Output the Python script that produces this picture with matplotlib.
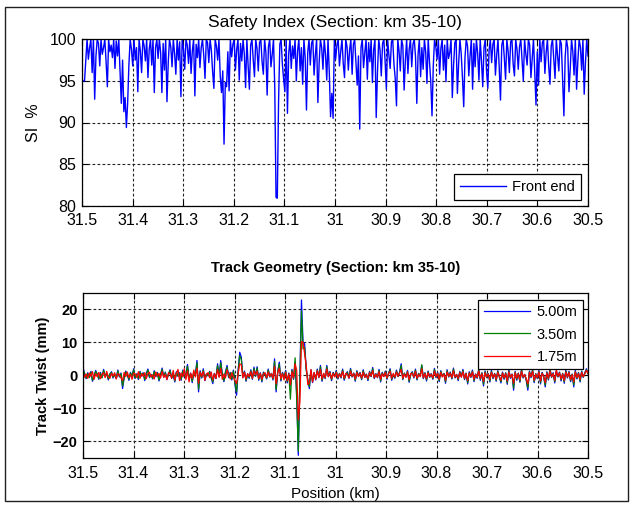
import numpy as np
import matplotlib
matplotlib.use("Agg")
import matplotlib.pyplot as plt
from matplotlib import font_manager

avail = {f.name for f in font_manager.fontManager.ttflist}
fam = [f for f in ["Liberation Sans Narrow", "Liberation Sans", "DejaVu Sans"] if f in avail]
plt.rcParams['font.family'] = fam

# ---------------- data ----------------
pos_start, pos_end = 31.5, 30.5
x_ticks = [31.5, 31.4, 31.3, 31.2, 31.1, 31.0, 30.9, 30.8, 30.7, 30.6, 30.5]
x_tick_labels = ["31.5", "31.4", "31.3", "31.2", "31.1", "31", "30.9", "30.8", "30.7", "30.6", "30.5"]
si_ticks = [80, 85, 90, 95, 100]
twist_ticks = [-20, -10, 0, 10, 20]

si_front_end = [
    95, 95, 95, 97.5, 100, 97.6, 99, 100, 96, 100, 92.8, 98, 100, 99.5, 96.8, 100, 98.2, 99, 100, 97.3,
    94.3, 100, 98.5, 99.3, 97.8, 100, 96.5, 99.8, 98, 100, 96, 92.3, 97.5, 91.3, 93, 89.4, 92.4, 97, 100, 98.8,
    96.8, 100, 97.5, 99, 93.7, 100, 98.6, 96, 100, 99.2, 97.4, 100, 95.4, 98.8, 100, 96.9, 100, 93.6, 99, 100,
    97.7, 100, 98.4, 93.6, 99.5, 96.3, 100, 92.5, 97.2, 100, 99.1, 96.7, 100, 98.3, 95.8, 100, 97.5, 99.7, 93.1, 100,
    98.9, 96.4, 100, 99.3, 97.1, 100, 95.9, 98.6, 100, 93.2, 99.4, 97.8, 100, 96.6, 99, 100, 98.1, 95.3, 100, 99.6,
    97.2, 100, 98.7, 96.1, 94.1, 100, 99.2, 97.5, 100, 95.6, 93.6, 96.2, 87.4, 94.8, 94.3, 98.5, 93.8, 100, 97.9, 99.4,
    100, 96.3, 98.8, 100, 95.1, 99.5, 97.4, 100, 98.2, 94.2, 100, 96.8, 94.0, 99.3, 100, 97.6, 95.5, 100, 98.9, 96.2,
    99.6, 100, 97.3, 95.8, 100, 98.4, 93.3, 99.1, 100, 96.7, 98.2, 100, 94.2, 81.0, 80.9, 92.5, 99.4, 100, 97.0, 95.2,
    93.7, 100, 91.1, 98.3, 100, 96.5, 99.2, 97.7, 100, 95.0, 98.6, 100, 96.2, 99.0, 94.6, 100, 97.8, 91.5, 98.4, 100,
    96.9, 99.5, 100, 95.7, 98.1, 100, 92.4, 97.2, 100, 99.0, 96.4, 100, 98.2, 95.1, 100, 96.0, 90.7, 93.5, 90.5, 100,
    97.6, 99.3, 100, 96.8, 98.5, 100, 97.1, 95.4, 100, 99.1, 96.3, 98.7, 100, 95.8, 99.4, 100, 97.2, 94.5, 98.0, 89.2,
    99.0, 100, 96.6, 98.4, 100, 95.2, 99.6, 97.3, 100, 94.8, 98.8, 100, 90.6, 96.1, 100, 98.7, 95.6, 99.5, 100, 97.4,
    94.0, 100, 98.1, 96.5, 99.7, 100, 97.0, 95.3, 92.0, 100, 98.6, 96.2, 100, 99.2, 93.9, 97.5, 100, 95.9, 98.8, 100,
    96.7, 99.4, 100, 97.9, 92.3, 98.2, 100, 95.5, 99.0, 96.4, 100, 98.5, 94.7, 100, 97.3, 95.0, 90.8, 96.8, 100, 99.1,
    97.6, 100, 95.8, 98.9, 100, 96.3, 99.3, 94.9, 100, 97.7, 98.4, 100, 93.0, 96.9, 99.6, 100, 93.5, 97.1, 100, 98.3,
    95.4, 91.9, 97.8, 100, 99.2, 95.6, 98.0, 100, 94.0, 99.5, 96.7, 100, 98.3, 95.1, 100, 97.4, 94.3, 99.0, 100, 96.2,
    94.1, 98.7, 100, 97.2, 99.4, 100, 95.7, 98.1, 100, 96.6, 92.7, 99.3, 100, 97.8, 95.2, 100, 98.6, 96.0, 99.7, 100,
    97.0, 95.6, 100, 98.8, 96.4, 99.1, 100, 97.5, 95.0, 100, 98.2, 96.9, 100, 99.3, 95.4, 97.7, 100, 96.1, 92.1, 98.5,
    94.5, 100, 97.3, 99.6, 100, 95.9, 98.4, 100, 96.8, 94.6, 99.2, 100, 97.6, 95.3, 100, 98.0, 96.2, 100, 99.4, 95.0,
    90.8, 97.9, 100, 99.0, 93.7, 96.5, 100, 98.6, 95.7, 100, 94.0, 97.4, 100, 99.1, 96.3, 100, 93.4, 97.2, 100, 98.0,
]

twist_500 = [
    2.5, 0.5, -1.0, 0.8, -0.5, 1.2, -1.8, -0.3, 1.5, 0.2, -1.2, 0.9, -0.6, 1.8, -0.2, 0.6, -1.4, 0.3, 1.1, -0.8,
    0.4, -1.0, 1.6, -0.5, 0.7, -4.0, -0.8, 1.3, 0.1, -1.5, 0.9, -0.4, 2.0, -0.9, 0.5, -1.3, 1.2, -0.2, 0.8, -1.6,
    0.6, 1.9, -0.7, 0.3, -1.1, 1.4, -0.4, 0.9, -1.7, 0.2, 2.2, -0.6, 1.0, -1.3, 0.4, 1.7, -0.9, 0.1, -2.0, 1.1,
    -0.3, 0.8, -1.5, 1.6, -0.5, 0.4, 3.3, -1.2, 0.7, -2.2, 1.0, 0.2, 4.5, -5.0, 1.4, -0.8, 2.0, -1.6, 0.5, -0.2,
    1.2, -0.9, -2.5, 0.6, -1.0, 3.5, -0.4, 4.5, 0.3, -1.9, 1.1, 3.0, -0.7, 0.9, -1.4, 1.6, -2.8, -6.0, 1.5, 7.0,
    5.5, -0.6, 1.3, -1.8, 0.4, -0.9, 1.7, -1.2, 2.5, -0.3, 2.6, -1.5, 0.8, -2.0, 1.0, 0.2, -1.1, 1.9, -0.5, 0.6,
    -1.4, 5.0, -5.0, 1.2, 4.0, -1.7, 0.9, -0.6, 1.5, -2.3, 0.7, -3.0, 1.8, -1.2, 4.0, -6.0, -24.2, -1.0, 22.8, 10.0,
    9.5, 2.0, -1.5, -4.0, 1.6, -2.2, 0.8, -1.4, 1.9, -0.7, 3.0, -1.8, 0.5, -1.0, 3.0, -0.4, 1.2, -1.6, 0.9, -0.3,
    1.5, -1.1, 0.6, -0.8, 1.9, -1.5, 0.3, 1.1, -0.9, 2.1, -0.5, 0.7, -1.8, 1.4, -0.2, 0.9, -1.3, 1.7, -0.6, 0.4,
    -1.6, 1.2, -0.4, 2.4, -1.0, 0.5, -0.7, 1.8, -2.0, 0.9, -0.3, 1.3, -1.2, 0.6, 2.0, -1.5, 0.2, -0.9, 1.6, -0.4,
    1.0, 3.5, -1.3, 0.7, -0.5, 1.5, -2.1, 0.4, 1.1, -0.8, 1.9, -1.4, 0.6, -0.2, 3.0, -1.0, 0.8, -1.7, 1.3, -0.6,
    0.5, -1.2, 2.1, -0.7, 0.9, -1.9, 1.4, -0.3, 0.6, -2.4, 1.7, -0.5, 1.0, -1.1, 2.2, -0.8, 0.3, -1.6, 1.2, -0.4,
    1.8, -1.3, 0.7, -2.6, 1.1, -0.6, 1.6, -1.9, 0.4, -0.9, 2.0, -1.5, 0.8, -3.2, 1.3, -0.7, 0.5, -2.0, 1.5, -1.0,
    0.6, -1.8, 1.4, -0.5, -2.3, 1.0, -1.2, 0.8, -2.7, 1.6, -0.9, 0.4, -4.5, 1.2, -1.5, 0.7, -2.1, 1.9, -0.8, 0.3,
    -1.6, -4.5, 1.3, -0.7, 1.8, -2.2, 0.5, -1.0, 1.5, -2.6, 0.9, -0.4, -3.5, 1.1, -1.4, 2.0, -0.6, 0.8, -2.3, 1.4,
    -0.5, 1.0, -1.7, 0.6, -2.4, 1.6, -0.8, 1.2, -1.9, 0.4, -3.5, 1.5, -1.1, 0.9, -2.0, 1.3, -0.6, 0.8, 2.0, 0.5,
]

twist_350 = [
    1.8, 0.6, -0.8, 0.5, -0.7, 1.0, -1.5, -0.1, 1.2, 0.4, -1.0, 0.6, -0.8, 1.5, 0.1, 0.4, -1.1, 0.5, 0.9, -0.6,
    0.2, -0.8, 1.3, -0.3, 0.5, -3.2, -0.6, 1.0, 0.3, -1.2, 0.7, -0.2, 1.7, -0.7, 0.3, -1.0, 1.0, -0.1, 0.6, -1.3,
    0.4, 1.6, -0.5, 0.2, -0.9, 1.1, -0.2, 0.7, -1.4, 0.3, 1.8, -0.4, 0.8, -1.0, 0.3, 1.4, -0.7, 0.2, -1.7, 0.9,
    -0.2, 0.6, -1.2, 1.3, -0.3, 0.3, 2.8, -1.0, 0.5, -1.8, 0.8, 0.3, 3.8, -4.2, 1.1, -0.6, 1.6, -1.3, 0.4, -0.1,
    1.0, -0.7, -2.0, 0.5, -0.8, 3.0, -0.3, 3.8, 0.2, -1.6, 0.9, 2.5, -0.5, 0.7, -1.1, 1.3, -2.3, -5.0, 1.2, 6.0,
    4.8, -0.4, 1.0, -1.5, 0.3, -0.7, 1.4, -1.0, 2.1, -0.2, 2.2, -1.2, 0.6, -1.7, 0.8, 0.2, -0.9, 1.6, -0.4, 0.5,
    -1.1, 4.2, -4.3, 1.0, 3.4, -1.4, 0.7, -0.5, 1.2, -1.9, 0.6, -7.2, 1.5, -1.0, 5.3, -7.5, -23.0, -1.5, 19.5, 8.0,
    8.5, 1.6, -1.2, -3.4, 1.3, -1.8, 0.6, -1.1, 1.6, -0.5, 2.6, -1.5, 0.4, -0.8, 2.6, -0.3, 1.0, -1.3, 0.7, -0.2,
    1.2, -0.9, 0.5, -0.6, 1.6, -1.2, 0.2, 0.9, -0.7, 1.8, -0.4, 0.6, -1.5, 1.2, -0.1, 0.7, -1.1, 1.4, -0.5, 0.3,
    -1.3, 1.0, -0.3, 2.0, -0.8, 0.4, -0.5, 1.5, -1.7, 0.7, -0.2, 1.1, -1.0, 0.5, 1.7, -1.2, 0.2, -0.7, 1.3, -0.3,
    0.8, 3.0, -1.1, 0.6, -0.4, 1.2, -1.8, 0.3, 0.9, -0.6, 1.6, -1.2, 0.5, -0.1, 3.2, -0.8, 0.7, -1.4, 1.1, -0.5,
    0.4, -1.0, 1.8, -0.5, 0.7, -1.6, 1.2, -0.2, 0.5, -2.0, 1.4, -0.4, 0.8, -0.9, 1.9, -0.6, 0.2, -1.3, 1.0, -0.3,
    1.5, -1.1, 0.6, -2.2, 0.9, -0.5, 1.3, -1.6, 0.3, -0.7, 1.7, -1.2, 0.7, -2.7, 1.1, -0.6, 0.4, -1.7, 1.2, -0.8,
    0.5, -1.5, 1.2, -0.4, -1.9, 0.8, -1.0, 0.7, -2.3, 1.3, -0.7, 0.3, -3.8, 1.0, -1.2, 0.6, -1.8, 1.6, -0.6, 0.2,
    -1.3, -3.8, 1.1, -0.5, 1.5, -1.9, 0.4, -0.8, 1.2, -2.2, 0.7, -0.3, -3.0, 0.9, -1.2, 1.7, -0.5, 0.6, -1.9, 1.2,
    -0.4, 0.8, -1.4, 0.5, -2.0, 1.3, -0.6, 1.0, -1.6, 0.3, -2.9, 1.2, -0.9, 0.7, -1.7, 1.1, -0.5, 0.6, 1.7, 0.4,
]

twist_175 = [
    1.0, -0.6, 0.4, -0.9, 0.7, -0.3, 1.1, -1.2, 0.5, -0.4, 0.9, -1.0, 0.3, 0.8, -0.7, 1.2, -0.5, -0.9, 0.6, -0.2,
    0.8, -1.1, 0.5, 0.2, -0.8, -1.6, 0.9, -0.4, 1.0, -0.7, 0.3, -1.2, 0.7, 0.4, -0.6, 1.1, -0.9, 0.5, -0.3, 0.8,
    -1.0, 0.6, 0.9, -0.5, 0.2, -1.1, 1.0, -0.3, 0.6, -0.8, 1.2, -0.6, 0.3, -1.3, 0.8, 0.4, -0.9, 1.5, -1.4, 0.5,
    1.8, -1.6, 0.7, -0.4, 2.0, -1.3, 1.4, -2.0, 0.6, -1.0, 1.6, -0.5, 2.2, -2.4, 0.9, -0.3, 1.2, -1.5, 0.4, 0.8,
    -0.7, 1.0, -1.4, 0.5, -0.9, 1.8, -0.6, 2.1, -1.2, 0.4, -0.8, 1.7, 0.3, -1.1, 0.8, -0.5, -1.6, -2.5, 0.6, 3.5,
    3.2, -0.8, 0.9, -1.1, 0.5, -0.4, 1.1, -0.9, 1.4, 0.2, 1.3, -1.0, 0.6, -1.2, 0.4, 0.8, -0.7, 1.0, -0.3, 0.5,
    -0.9, 2.8, -2.6, 0.7, 2.2, -1.0, 0.5, -1.4, 0.9, -1.6, 0.4, -2.8, 1.1, -0.8, 3.5, 1.5, -13.5, -8.0, 10.2, 10.0,
    6.5, 3.0, -2.8, -2.2, 1.8, -2.0, 0.9, -1.2, 1.4, -0.6, 1.8, -1.1, 0.6, -0.7, 1.9, -0.4, 0.8, -1.0, 0.6, -0.5,
    0.9, -0.7, 0.4, -0.5, 1.2, -0.9, 0.6, 0.3, -0.8, 1.3, -0.3, 0.5, -1.1, 0.9, -0.4, 0.6, -0.8, 1.0, -0.6, 0.2,
    -1.0, 0.8, -0.2, 1.4, -0.7, 0.3, -0.6, 1.1, -1.2, 0.5, -0.4, 0.9, -0.8, 0.4, 1.2, -0.9, 0.6, -0.5, 1.0, -0.3,
    0.7, 1.8, -0.9, 0.4, -0.6, 1.0, -1.3, 0.5, 0.6, -0.5, 1.2, -0.9, 0.3, -0.4, 2.0, -0.7, 0.5, -1.0, 0.8, -0.4,
    0.3, -0.8, 1.3, -0.4, 0.6, -1.2, 0.9, -0.5, 0.4, -1.5, 1.0, -0.3, 0.6, -0.7, 1.4, -0.5, 0.2, -1.0, 0.8, -0.6,
    1.1, -0.9, 0.5, -1.6, 0.7, -0.4, 1.0, -1.2, 0.3, -0.6, 1.3, -0.9, 0.5, -1.9, 0.8, -0.5, 0.4, -1.3, 0.9, -0.6,
    0.4, -1.2, 0.9, -0.3, -1.5, 0.7, -0.8, 0.5, -1.7, 1.0, -0.6, 0.3, -2.4, 0.8, -0.9, 0.5, -1.4, 1.2, -0.5, 0.2,
    -1.0, -2.6, 0.9, -0.4, 1.2, -1.5, 0.3, -0.7, 1.0, -1.7, 0.6, -0.2, -2.2, 0.7, -0.9, 1.3, -0.4, 0.5, -1.5, 1.6,
    -0.3, 0.7, -1.1, 0.4, -1.6, 1.0, -0.5, 0.8, -1.3, 0.2, -2.0, 1.0, -0.7, 0.5, -1.2, 0.9, -0.4, 0.5, 1.5, 0.6,
]

# ---------------- figure ----------------
W, H = 632, 505
fig = plt.figure(figsize=(W / 100, H / 100), dpi=100)
fig.patch.set_facecolor("white")

# outer frame
fig.add_artist(plt.Rectangle((5 / W, 4 / H), 623 / W, 494 / H, transform=fig.transFigure,
                             fill=False, edgecolor="#202020", linewidth=1.0))

FS = 11.5

def px_axes(l, t, r, b):
    return [l / W, 1 - b / H, (r - l) / W, (b - t) / H]

def style(ax, xpad):
    ax.set_xlim(pos_start, pos_end)
    ax.set_xticks(x_ticks)
    ax.set_xticklabels(x_tick_labels)
    ax.tick_params(direction="in", top=True, right=True, length=4, width=0.8,
                   labelsize=FS, colors="black")
    ax.tick_params(axis="x", pad=xpad)
    ax.tick_params(axis="y", pad=4)
    ax.grid(True, color="#222222", linestyle=(0, (2.5, 2.0)), linewidth=0.8)
    for s in ax.spines.values():
        s.set_linewidth(0.9)
        s.set_color("black")

# --- Top: safety index
ax1 = fig.add_axes(px_axes(82, 39.3, 588, 205.7))
x_si = np.linspace(pos_start, pos_end, len(si_front_end))
ax1.plot(x_si, si_front_end, color="#0000ff", linewidth=1.0, label="Front end")
style(ax1, 5)
ax1.set_ylim(80, 100)
ax1.set_yticks(si_ticks)
ax1.set_ylabel("SI  %", fontsize=FS, labelpad=6)
ax1.set_title("Safety Index (Section: km 35-10)", fontsize=12.5, pad=9)
leg1 = ax1.legend(loc="lower right", bbox_to_anchor=(0.986, 0.034), borderaxespad=0,
                  fontsize=10.5, handlelength=3.15, handletextpad=0.4,
                  fancybox=False, framealpha=1, edgecolor="black", borderpad=0.42)
leg1.get_frame().set_linewidth(0.9)

# --- Bottom: track twist
ax2 = fig.add_axes(px_axes(83, 292.7, 588, 458))
x_tw = np.linspace(pos_start, pos_end, len(twist_500))
ax2.plot(x_tw, twist_500, color="#0000ff", linewidth=0.9, label="5.00m")
ax2.plot(x_tw, twist_350, color="#008000", linewidth=0.9, label="3.50m")
ax2.plot(x_tw, twist_175, color="#ff0000", linewidth=0.9, label="1.75m")
style(ax2, 6)
ax2.set_ylim(-25, 25)
ax2.set_yticks(twist_ticks)
for t in ax2.get_yticklabels():
    t.set_fontweight("bold")
    t.set_fontsize(10.5)
ax2.set_ylabel("Track Twist (mm)", fontsize=10.5, fontweight="bold", labelpad=2)
ax2.set_xlabel("Position (km)", fontsize=11, labelpad=4)
ax2.set_title("Track Geometry (Section: km 35-10)", fontsize=10.5, fontweight="bold", pad=15)
leg2 = ax2.legend(loc="upper right", bbox_to_anchor=(0.99, 0.956), borderaxespad=0,
                  fontsize=10.5, handlelength=3.15, handletextpad=0.5, labelspacing=0.57,
                  fancybox=False, framealpha=1, edgecolor="black", borderpad=0.36)
leg2.get_frame().set_linewidth(0.9)

fig.savefig("out.png", dpi=100, facecolor="white")
